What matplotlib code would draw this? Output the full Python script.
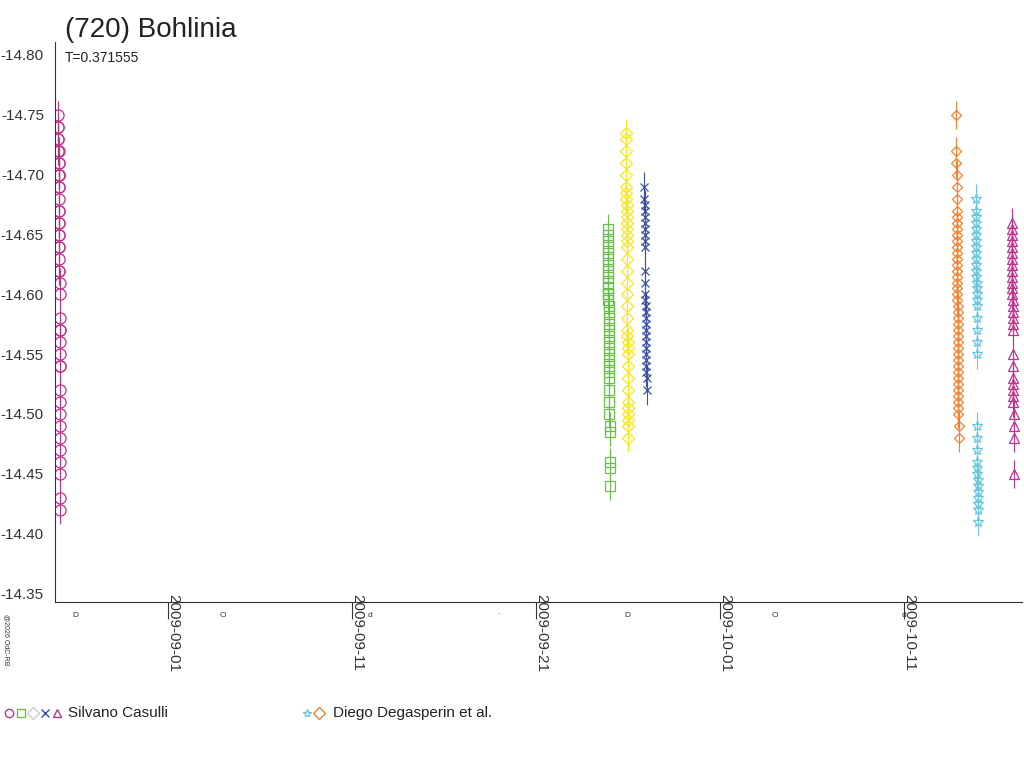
import matplotlib
matplotlib.use("Agg")
import matplotlib.pyplot as plt
import matplotlib.dates as mdates
from matplotlib.transforms import ScaledTranslation
import numpy as np
import datetime as dt

plt.rcParams['font.family'] = ['Liberation Sans', 'DejaVu Sans']

# session dates (day start) and magnitudes
pink_c_day = "2009-08-26"
pink_c = [-14.75,-14.74,-14.74,-14.73,-14.73,-14.72,-14.72,-14.71,-14.71,-14.70,-14.70,-14.70,-14.69,-14.69,
          -14.68,-14.67,-14.67,-14.66,-14.66,-14.65,-14.65,-14.64,-14.64,-14.63,-14.62,-14.62,-14.61,-14.60,
          -14.58,-14.57,-14.57,-14.56,-14.55,-14.54,-14.54,-14.52,-14.51,-14.50,-14.49,-14.48,-14.47,-14.46,
          -14.45,-14.43,-14.42]
green_s_day = "2009-09-25"
green_s = [-14.655,-14.65,-14.645,-14.64,-14.635,-14.63,-14.625,-14.62,-14.615,-14.61,-14.605,-14.60,-14.60,
           -14.595,-14.59,-14.585,-14.58,-14.575,-14.57,-14.565,-14.56,-14.555,-14.55,-14.545,-14.54,
           -14.535,-14.53,-14.52,-14.51,-14.50,-14.49,-14.485,-14.46,-14.455,-14.44]
yellow_d_day = "2009-09-26"
yellow_d = [-14.735,-14.73,-14.72,-14.71,-14.70,-14.69,-14.685,-14.68,-14.675,-14.67,-14.665,-14.66,-14.655,
            -14.65,-14.645,-14.64,-14.63,-14.62,-14.61,-14.60,-14.59,-14.58,-14.57,-14.565,-14.56,-14.555,
            -14.55,-14.54,-14.53,-14.52,-14.51,-14.505,-14.50,-14.495,-14.49,-14.48]
blue_x_day = "2009-09-27"
blue_x = [-14.69,-14.68,-14.675,-14.67,-14.665,-14.66,-14.655,-14.65,-14.645,-14.64,-14.62,-14.61,-14.60,
          -14.595,-14.59,-14.585,-14.58,-14.575,-14.57,-14.565,-14.56,-14.555,-14.55,-14.545,-14.54,-14.535,
          -14.53,-14.52]
orange_d_day = "2009-10-13"
orange_d = [-14.75,-14.72,-14.71,-14.70,-14.69,-14.68,-14.67,-14.665,-14.66,-14.655,-14.65,-14.645,-14.64,
            -14.635,-14.63,-14.625,-14.62,-14.615,-14.61,-14.605,-14.60,-14.595,-14.59,-14.585,-14.58,-14.575,
            -14.57,-14.565,-14.56,-14.555,-14.55,-14.545,-14.54,-14.535,-14.53,-14.525,-14.52,-14.515,-14.51,
            -14.505,-14.50,-14.49,-14.48]
cyan_s_day = "2009-10-14"
cyan_s = [-14.68,-14.67,-14.665,-14.66,-14.655,-14.65,-14.645,-14.64,-14.635,-14.63,-14.625,-14.62,-14.615,
          -14.61,-14.605,-14.60,-14.595,-14.59,-14.58,-14.57,-14.56,-14.55,-14.49,-14.48,-14.47,-14.46,
          -14.455,-14.45,-14.445,-14.44,-14.435,-14.43,-14.425,-14.42,-14.41]
pink_t_day = "2009-10-16"
pink_t = [-14.66,-14.655,-14.65,-14.645,-14.64,-14.635,-14.63,-14.625,-14.62,-14.615,-14.61,-14.605,-14.60,
          -14.595,-14.59,-14.585,-14.58,-14.575,-14.57,-14.55,-14.54,-14.53,-14.525,-14.52,-14.515,-14.51,
          -14.50,-14.49,-14.48,-14.45]

groups = [
    (pink_c_day, pink_c, 0.05, "#c0338c", "o", 8),
    (green_s_day, green_s, -0.1, "#6abf4b", "s", 7),
    (yellow_d_day, yellow_d, -0.1, "#f7e623", "D", 6),
    (blue_x_day, blue_x, -0.1, "#3a50a1", "x", 6),
    (orange_d_day, orange_d, 0.85, "#f58030", "D", 5),
    (cyan_s_day, cyan_s, 0.9, "#6ac7de", "*", 8),
    (pink_t_day, pink_t, 0.85, "#c0338c", "^", 7),
]

fig = plt.figure(figsize=(10.24, 7.68), dpi=100)
ax = fig.add_axes([55/1024, 1-602/768, 967/1024, 560/768])

for day, mags, off, col, mk, ms in groups:
    d0 = mdates.date2num(dt.datetime.fromisoformat(day)) + off
    t = d0 + np.linspace(0, 0.12, len(mags))
    ax.errorbar(t, mags, yerr=0.012, fmt=mk, mfc="none", mec=col, ecolor=col,
                ms=ms, mew=0.9, elinewidth=0.8, capsize=0)

ax.set_xlim(mdates.date2num(dt.datetime(2009, 8, 25, 21)), mdates.date2num(dt.datetime(2009, 10, 17, 10)))
ax.set_ylim(-14.343, -14.811)

yt = [-14.80, -14.75, -14.70, -14.65, -14.60, -14.55, -14.50, -14.45, -14.40, -14.35]
ax.set_yticks(yt)
ax.set_yticklabels([f"{v:.2f}" for v in yt], fontsize=11, color="#333333", va="bottom")
ax.tick_params(axis="y", length=0, pad=8)
for lab in ax.get_yticklabels():
    lab.set_transform(lab.get_transform() + ScaledTranslation(0, -6/72, fig.dpi_scale_trans))

xt = ["2009-09-01", "2009-09-11", "2009-09-21", "2009-10-01", "2009-10-11"]
ax.set_xticks([mdates.date2num(dt.datetime.fromisoformat(s)) for s in xt])
ax.set_xticklabels(xt, rotation=-90, fontsize=11, color="#333333", ha="left", va="top")
ax.tick_params(axis="x", direction="out", length=12, color="#333333", pad=-10)
for lab in ax.get_xticklabels():
    lab.set_transform(lab.get_transform() + ScaledTranslation(-1/72, 8/72, fig.dpi_scale_trans))

for s in ["top", "right"]:
    ax.spines[s].set_visible(False)
ax.spines["left"].set_color("#333333")
ax.spines["bottom"].set_color("#333333")

# moon phase marks
phases = [("2009-08-27", "D"), ("2009-09-04", "O"), ("2009-09-12", "d"), ("2009-09-19", "·"),
          ("2009-09-26", "D"), ("2009-10-04", "O"), ("2009-10-11", "d")]
for d, s in phases:
    ax.text(mdates.date2num(dt.datetime.fromisoformat(d)), -14.335, s, fontsize=6,
            ha="center", va="top", color="#333333", clip_on=False)

fig.text(65/1024, 1-30/768, "(720) Bohlinia", fontsize=20, va="center", color="#222222")
fig.text(65/1024, 1-58/768, "T=0.371555", fontsize=10, va="center", color="#222222")
fig.text(3/1024, 1-640/768, "@2026 OdC-RB", fontsize=5, rotation=-90, va="center", color="#333333")

# legend
x0 = 5
for col, mk in [("#c0338c", "o"), ("#6abf4b", "s"), ("#cccccc", "D"), ("#3a50a1", "x"), ("#c0338c", "^")]:
    fig.lines.append(plt.Line2D([x0/1024 + 0.004], [1-713/768], marker=mk, mfc="none", mec=col,
                                ms=6, transform=fig.transFigure, ls="none"))
    x0 += 12
fig.text(68/1024, 1-713/768, "Silvano Casulli", fontsize=11, va="center", color="#222222")
x0 = 303
for col, mk in [("#6ac7de", "*"), ("#f58030", "D")]:
    fig.lines.append(plt.Line2D([x0/1024 + 0.004], [1-713/768], marker=mk, mfc="none", mec=col,
                                ms=6, transform=fig.transFigure, ls="none"))
    x0 += 12
fig.text(333/1024, 1-713/768, "Diego Degasperin et al.", fontsize=11, va="center", color="#222222")

fig.savefig("out.png", dpi=100)
